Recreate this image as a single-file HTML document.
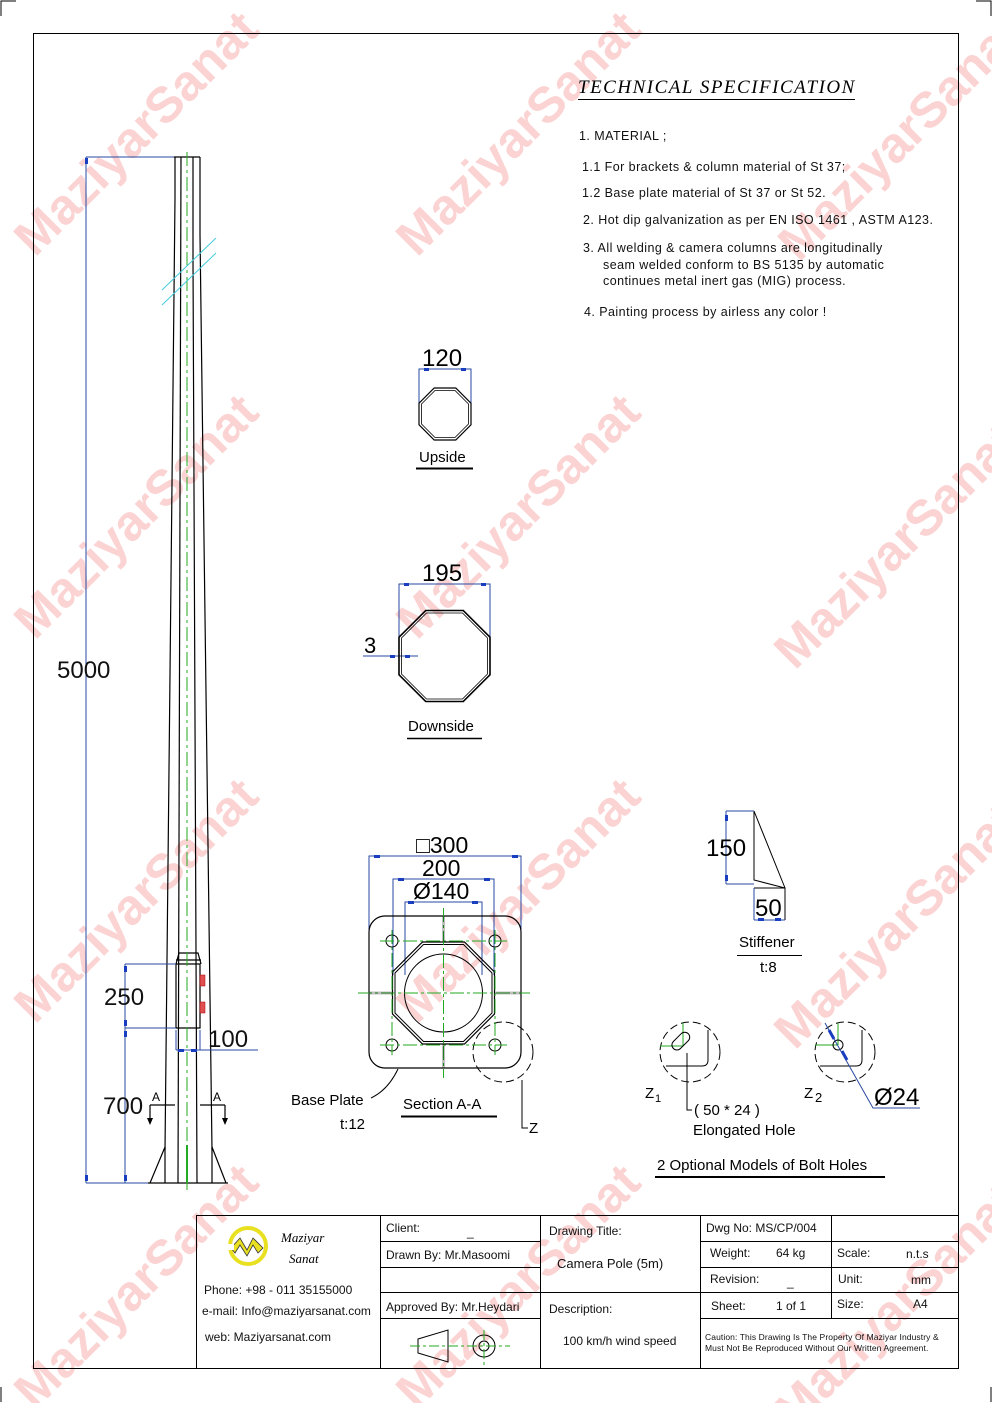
<!DOCTYPE html>
<html><head><meta charset="utf-8"><style>
html,body{margin:0;padding:0;background:#fff}
svg{display:block}
text{font-family:"Liberation Sans",sans-serif}
.wm{font-weight:bold;font-size:50px;fill:#fbd3d3}
</style></head><body>
<svg width="992" height="1403" viewBox="0 0 992 1403" xmlns="http://www.w3.org/2000/svg">
<!-- watermarks -->
<g class="wm">
<text x="0" y="0" text-anchor="middle" transform="translate(148,145) rotate(-45)">MaziyarSanat</text>
<text x="0" y="0" text-anchor="middle" transform="translate(530,145) rotate(-45)">MaziyarSanat</text>
<text x="0" y="0" text-anchor="middle" transform="translate(912,150) rotate(-45)">MaziyarSanat</text>
<text x="0" y="0" text-anchor="middle" transform="translate(148,528) rotate(-45)">MaziyarSanat</text>
<text x="0" y="0" text-anchor="middle" transform="translate(530,528) rotate(-45)">MaziyarSanat</text>
<text x="0" y="0" text-anchor="middle" transform="translate(908,558) rotate(-45)">MaziyarSanat</text>
<text x="0" y="0" text-anchor="middle" transform="translate(148,912) rotate(-45)">MaziyarSanat</text>
<text x="0" y="0" text-anchor="middle" transform="translate(530,912) rotate(-45)">MaziyarSanat</text>
<text x="0" y="0" text-anchor="middle" transform="translate(908,938) rotate(-45)">MaziyarSanat</text>
<text x="0" y="0" text-anchor="middle" transform="translate(148,1298) rotate(-45)">MaziyarSanat</text>
<text x="0" y="0" text-anchor="middle" transform="translate(530,1298) rotate(-45)">MaziyarSanat</text>
<text x="0" y="0" text-anchor="middle" transform="translate(908,1318) rotate(-45)">MaziyarSanat</text>
</g>
<!-- corner marks -->
<path d="M1 16V1H16 M976 1H991V16 M1 1387V1402 M991 1387V1402" stroke="#000" fill="none"/>
<!-- frame -->
<rect x="33.5" y="33.5" width="925" height="1335" fill="none" stroke="#000"/>

<!-- tech spec -->
<text x="578" y="93" font-style="italic" font-size="19" letter-spacing="1.5" style="font-family:'Liberation Serif',serif">TECHNICAL  SPECIFICATION</text>
<line x1="578" y1="99.5" x2="855" y2="99.5" stroke="#000"/>
<g font-size="12.5" fill="#111" letter-spacing="0.45">
<text x="579" y="140">1. MATERIAL ;</text>
<text x="582" y="171">1.1  For brackets &amp; column material of St 37;</text>
<text x="582" y="197">1.2  Base plate material of St 37 or St 52.</text>
<text x="583" y="224">2.  Hot dip galvanization as per EN ISO 1461  , ASTM A123.</text>
<text x="583" y="252">3.  All welding &amp; camera columns are longitudinally</text>
<text x="603" y="269">seam welded conform to BS 5135 by automatic</text>
<text x="603" y="285">continues metal inert gas (MIG) process.</text>
<text x="584" y="316">4.  Painting process by airless any color !</text>
</g>

<!-- POLE -->
<g stroke="#000" fill="none" stroke-width="1.2">
<line x1="174" y1="157" x2="200" y2="157"/>
<path d="M175 157V198L165 1150"/>
<path d="M200 157V235L212 1150"/>
<path d="M181 157L178 1183"/>
<path d="M193 157V260L197 1183"/>
<path d="M165 1147L150 1183 M212 1147L226 1183 M148 1183H228 M165 1147V1183 M212 1147V1183"/>
<!-- door -->
<path d="M176 964V1028H200V964Z"/>
<path d="M176 964L179 953H198L201 964"/>
<line x1="176" y1="960" x2="201" y2="960"/>
<!-- section marks -->
<path d="M150 1105H175 M200 1105H225 M150 1105V1118 M225 1105V1118"/>
</g>
<path d="M147 1118L150 1125L153 1118Z M222 1118L225 1125L228 1118Z" fill="#000"/>
<text x="152" y="1101" font-size="12">A</text>
<text x="213" y="1101" font-size="12">A</text>
<rect x="200" y="975" width="5" height="11" fill="#e05050" stroke="#a00" stroke-width="0.5"/>
<rect x="200" y="1002" width="5" height="11" fill="#e05050" stroke="#a00" stroke-width="0.5"/>
<line x1="187" y1="152" x2="187" y2="1190" stroke="#2a2" stroke-dasharray="14,4,3,4"/>
<line x1="187" y1="1145" x2="187" y2="1183" stroke="#2a2" stroke-width="2"/>
<path d="M162 290L216 238 M162 305L216 253" stroke="#4cd" stroke-width="1"/>

<!-- pole dims -->
<g stroke="#2a4aa0" fill="none">
<path d="M86 157H174 M86 157V1183 M86 1183H148"/>
<path d="M125 964H176 M125 964V1183 M125 1028H176 M125 1183H148"/>
<path d="M176 1050H258 M176 1030V1050 M200 1030V1050"/>
</g>
<g fill="#1a3ec0">
<rect x="85" y="158" width="3" height="6"/><rect x="85" y="1175" width="3" height="6"/>
<rect x="124" y="966" width="3" height="6"/><rect x="124" y="1020" width="3" height="6"/>
<rect x="124" y="1031" width="3" height="6"/><rect x="124" y="1175" width="3" height="6"/>
<rect x="178" y="1049" width="6" height="3"/><rect x="191" y="1049" width="6" height="3"/>
</g>
<g font-size="24" fill="#111">
<text x="57" y="678">5000</text>
<text x="104" y="1005">250</text>
<text x="208" y="1047">100</text>
<text x="103" y="1114">700</text>
</g>

<!-- Upside -->
<g stroke="#2a4aa0" fill="none"><path d="M419 403V369H471V403"/></g>
<rect x="424" y="368" width="5" height="3" fill="#1a3ec0"/><rect x="461" y="368" width="5" height="3" fill="#1a3ec0"/>
<text x="422" y="366" font-size="24">120</text>
<polygon points="434.2,388 455.8,388 471,403.2 471,424.8 455.8,440 434.2,440 419,424.8 419,403.2" fill="none" stroke="#000" stroke-width="1.2"/>
<polygon points="435,390.5 455,390.5 468.5,404 468.5,424 455,437.5 435,437.5 421.5,424 421.5,404" fill="none" stroke="#000" stroke-width="0.8"/>
<text x="419" y="462" font-size="15">Upside</text>
<line x1="416" y1="468.5" x2="473" y2="468.5" stroke="#000" stroke-width="2"/>

<!-- Downside -->
<g stroke="#2a4aa0" fill="none"><path d="M399 637V584H490V637 M363 656H418"/></g>
<rect x="404" y="583" width="5" height="3" fill="#1a3ec0"/><rect x="481" y="583" width="5" height="3" fill="#1a3ec0"/>
<rect x="390" y="655" width="5" height="3" fill="#1a3ec0"/><rect x="405" y="655" width="5" height="3" fill="#1a3ec0"/>
<text x="422" y="581" font-size="24">195</text>
<text x="364" y="653" font-size="22">3</text>
<polygon points="425.7,610.5 463.3,610.5 490,637.2 490,674.8 463.3,701.5 425.7,701.5 399,674.8 399,637.2" fill="none" stroke="#000" stroke-width="1.6"/>
<polygon points="426.5,613 462.5,613 487.5,638 487.5,674 462.5,699 426.5,699 401.5,674 401.5,638" fill="none" stroke="#000" stroke-width="0.8"/>
<text x="408" y="731" font-size="15">Downside</text>
<line x1="407" y1="738.5" x2="482" y2="738.5" stroke="#000" stroke-width="1.5"/>

<!-- Base plate -->
<g stroke="#2a4aa0" fill="none">
<path d="M369 930V856H521V930"/>
<path d="M393 975V879H494V975"/>
<path d="M405 975V902H482V975"/>
</g>
<g fill="#1a3ec0">
<rect x="374" y="855" width="6" height="3"/><rect x="512" y="855" width="6" height="3"/>
<rect x="398" y="878" width="6" height="3"/><rect x="484" y="878" width="6" height="3"/>
<rect x="408" y="901" width="6" height="3"/><rect x="472" y="901" width="6" height="3"/>
</g>
<text x="416" y="853" font-size="23">□300</text>
<text x="422" y="876" font-size="23">200</text>
<text x="413" y="899" font-size="23">Ø140</text>
<rect x="369" y="916" width="152" height="152" rx="16" fill="none" stroke="#000" stroke-width="1.2"/>
<g stroke="#000" fill="none">
<circle cx="392" cy="941" r="6"/><circle cx="495" cy="941" r="6"/>
<circle cx="392" cy="1045" r="6"/><circle cx="495" cy="1045" r="6"/>
<circle cx="443.5" cy="993" r="39"/>
<polygon points="422.5,942 464.5,942 494.5,972 494.5,1014 464.5,1044 422.5,1044 392.5,1014 392.5,972" stroke-width="1.2"/>
<polygon points="423.5,944.5 463.5,944.5 492,973 492,1013 463.5,1041.5 423.5,1041.5 395,1013 395,973"/>
<circle cx="503" cy="1052" r="30" stroke-dasharray="8,4"/>
<path d="M522 1080V1128H528"/>
</g>
<path d="M371 1098Q388 1090 398 1069" stroke="#000" fill="none"/>
<g stroke="#2a2" fill="none" stroke-dasharray="14,3,3,3">
<path d="M358 993H530 M443.5 908V1078 M392 930V1055 M495 930V1055 M380 941H507 M380 1045H507"/>
</g>
<path d="M369 993H393 M494 993H521 M443.5 916V942 M443.5 1044V1068" stroke="#000" stroke-width="3" stroke-opacity="0.25"/>
<text x="291" y="1105" font-size="15">Base Plate</text>
<text x="340" y="1129" font-size="15">t:12</text>
<text x="403" y="1109" font-size="15">Section A-A</text>
<line x1="401" y1="1116.5" x2="497" y2="1116.5" stroke="#000" stroke-width="2"/>
<text x="529" y="1133" font-size="15">Z</text>

<!-- Stiffener -->
<path d="M754 811V880L785 888V920 M754 811L785 888 M754 888H785" stroke="#000" fill="none"/>
<path d="M726 811H754 M726 811V884 M726 884H754 M754 888V920 M754 920H785" stroke="#2a4aa0" fill="none"/>
<rect x="725" y="815" width="3" height="6" fill="#1a3ec0"/><rect x="725" y="875" width="3" height="6" fill="#1a3ec0"/>
<rect x="758" y="918" width="6" height="3" fill="#1a3ec0"/><rect x="775" y="918" width="6" height="3" fill="#1a3ec0"/>
<text x="706" y="856" font-size="24">150</text>
<text x="755" y="916" font-size="24">50</text>
<text x="739" y="947" font-size="15">Stiffener</text>
<line x1="737" y1="955.5" x2="802" y2="955.5" stroke="#000"/>
<text x="760" y="972" font-size="15">t:8</text>

<!-- Z1 -->
<circle cx="690" cy="1052" r="30" fill="none" stroke="#000" stroke-dasharray="8,4"/>
<path d="M708 1030V1060Q708 1066 702 1066H666" stroke="#000" fill="none"/>
<path d="M660 1046H683 M683 1023V1046" stroke="#2a2" fill="none"/>
<rect x="674" y="1034" width="10" height="21" rx="5" transform="rotate(45 684 1045)" fill="none" stroke="#000"/>
<path d="M687 1053V1110H692" stroke="#000" fill="none"/>
<text x="645" y="1098" font-size="15">Z</text><text x="655" y="1102" font-size="11">1</text>
<text x="694" y="1115" font-size="15">( 50 * 24 )</text>
<text x="693" y="1135" font-size="15">Elongated Hole</text>

<!-- Z2 -->
<circle cx="845" cy="1052" r="30" fill="none" stroke="#000" stroke-dasharray="8,4"/>
<path d="M862 1030V1060Q862 1066 856 1066H820" stroke="#000" fill="none"/>
<path d="M815 1045H838 M838 1023V1045" stroke="#2a2" fill="none"/>
<circle cx="838" cy="1045" r="5" fill="none" stroke="#000"/>
<path d="M825 1023L873 1108H920" stroke="#2a4aa0" fill="none"/>
<path d="M829 1030L834 1039 M842 1051L847 1060" stroke="#1a3ec0" stroke-width="3"/>
<text x="804" y="1098" font-size="15">Z</text><text x="815" y="1102" font-size="13">2</text>
<text x="874" y="1105" font-size="24">Ø24</text>
<text x="657" y="1170" font-size="15">2 Optional Models of Bolt Holes</text>
<line x1="655" y1="1177" x2="885" y2="1177" stroke="#000" stroke-width="2"/>

<!-- TITLE BLOCK -->
<g stroke="#000" fill="none">
<rect x="196.5" y="1215.5" width="762" height="153"/>
<path d="M380.5 1215V1369 M540.5 1215V1369 M700.5 1215V1369 M831.5 1215V1318"/>
<path d="M380 1241.5H540 M380 1267.5H540 M380 1292.5H540 M380 1318.5H540"/>
<path d="M540 1292.5H700"/>
<path d="M700 1241.5H958 M700 1267.5H958 M700 1292.5H958 M700 1318.5H958"/>
</g>
<!-- logo -->
<circle cx="248" cy="1246" r="18" fill="none" stroke="#e8e020" stroke-width="4"/>
<path d="M231 1248L240 1238L247 1250L253 1238L263 1248L258 1253L253 1245L247 1256L240 1245L235 1253Z" fill="#e8e020" stroke="#333" stroke-width="0.8"/>
<rect x="228" y="1244" width="6" height="6" fill="#fff"/>
<text x="281" y="1242" font-size="13" font-style="italic" style="font-family:'Liberation Serif',serif">Maziyar</text>
<text x="289" y="1263" font-size="13" font-style="italic" style="font-family:'Liberation Serif',serif">Sanat</text>
<g font-size="12" fill="#111">
<text x="204" y="1294">Phone: +98 - 011 35155000</text>
<text x="202" y="1315">e-mail:  Info@maziyarsanat.com</text>
<text x="205" y="1341">web:     Maziyarsanat.com</text>
<text x="386" y="1232">Client:</text><text x="467" y="1236">_</text>
<text x="386" y="1259">Drawn By:   Mr.Masoomi</text>
<text x="386" y="1311">Approved By: Mr.Heydari</text>
<text x="549" y="1235">Drawing Title:</text>
<text x="557" y="1268" font-size="13">Camera Pole (5m)</text>
<text x="549" y="1313">Description:</text>
<text x="563" y="1345">100 km/h wind speed</text>
<text x="706" y="1232">Dwg No:  MS/CP/004</text>
<text x="710" y="1257">Weight:</text><text x="776" y="1257">64 kg</text>
<text x="710" y="1283">Revision:</text><text x="787" y="1286">_</text>
<text x="711" y="1310">Sheet:</text><text x="776" y="1310">1 of 1</text>
<text x="837" y="1257">Scale:</text><text x="906" y="1258">n.t.s</text>
<text x="838" y="1283">Unit:</text><text x="911" y="1284">mm</text>
<text x="837" y="1308">Size:</text><text x="913" y="1308">A4</text>
<text x="705" y="1340" font-size="8.5" letter-spacing="0.1">Caution: This Drawing Is The Property Of Maziyar Industry &amp;</text>
<text x="705" y="1351" font-size="8.5" letter-spacing="0.1">Must Not Be Reproduced Without Our Written Agreement.</text>
</g>
<!-- small icon -->
<path d="M418 1339L448 1330V1362L418 1353Z" fill="none" stroke="#000"/>
<circle cx="484" cy="1346" r="11" fill="none" stroke="#000"/>
<circle cx="484" cy="1346" r="5" fill="none" stroke="#000"/>
<path d="M410 1346H510 M484 1330V1365" stroke="#2a2" stroke-dasharray="10,3,3,3"/>
</svg>
</body></html>
